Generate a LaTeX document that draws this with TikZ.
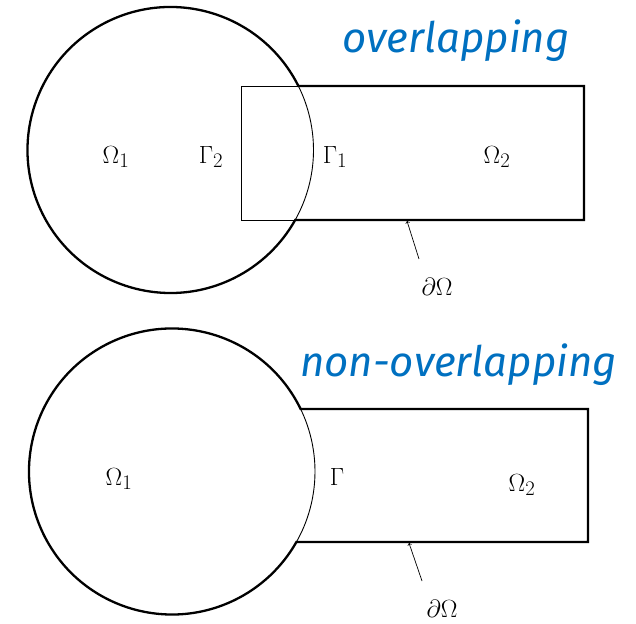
\documentclass[tikz,border=0pt]{standalone}
\usepackage{fontspec}
\newfontfamily\titlefont{Fira Sans}
\definecolor{titleblue}{RGB}{0,112,192}
\begin{document}
\begin{tikzpicture}[x=1pt, y=1pt,
  outerline/.style={line width=2.3pt},
  innerline/.style={line width=0.9pt},
  domlabel/.style={font=\fontsize{28}{33}\selectfont},
  titletext/.style={font=\fontsize{42}{50}\selectfont\titlefont\itshape, text=titleblue, anchor=base, inner sep=0pt},
  pointer/.style={->, line width=0.7pt}]
\useasboundingbox (0,0) rectangle (636,623);
% caso sovrapposto
\coordinate (cTop) at (170.5,473);
\draw[innerline] (cTop) ++(-29.3:143) arc[start angle=-29.3, end angle=26.6, radius=143pt];
\draw[innerline] (298.4,537) -- (241,537) -- (241,403) -- (295.2,403);
\draw[outerline] (cTop) ++(26.6:143) arc[start angle=26.6, end angle=330.7, radius=143pt]
  -- (584,403) -- (584,537) -- cycle;
\node[domlabel] (omegaOneTop) at (116,466) {$\Omega_1$};
\node[domlabel] (gammaTwo) at (211,466) {$\Gamma_2$};
\node[domlabel] (gammaOne) at (335,466) {$\Gamma_1$};
\node[domlabel] (omegaTwoTop) at (497,466) {$\Omega_2$};
\node[domlabel] (boundTop) at (437,336) {$\partial\Omega$};
\coordinate (tailTop) at (419,364);
\coordinate (tipTop) at (407,402);
\draw[pointer] (tailTop) -- (tipTop);
\node[titletext] (titleTop) at (456,570) {overlapping};
% caso non sovrapposto
\coordinate (cBot) at (172,151.5);
\draw[innerline] (cBot) ++(-29.5:143) arc[start angle=-29.5, end angle=25.9, radius=143pt];
\draw[outerline] (cBot) ++(25.9:143) arc[start angle=25.9, end angle=330.5, radius=143pt]
  -- (588,81) -- (588,214) -- cycle;
\node[domlabel] (omegaOneBot) at (119,144) {$\Omega_1$};
\node[domlabel] (gammaBot) at (337,146) {$\Gamma$};
\node[domlabel] (omegaTwoBot) at (522,138) {$\Omega_2$};
\node[domlabel] (boundBot) at (442,14) {$\partial\Omega$};
\coordinate (tailBot) at (422,42);
\coordinate (tipBot) at (409,80);
\draw[pointer] (tailBot) -- (tipBot);
\node[titletext] (titleBot) at (458.5,246) {non-overlapping};
\end{tikzpicture}
\end{document}
